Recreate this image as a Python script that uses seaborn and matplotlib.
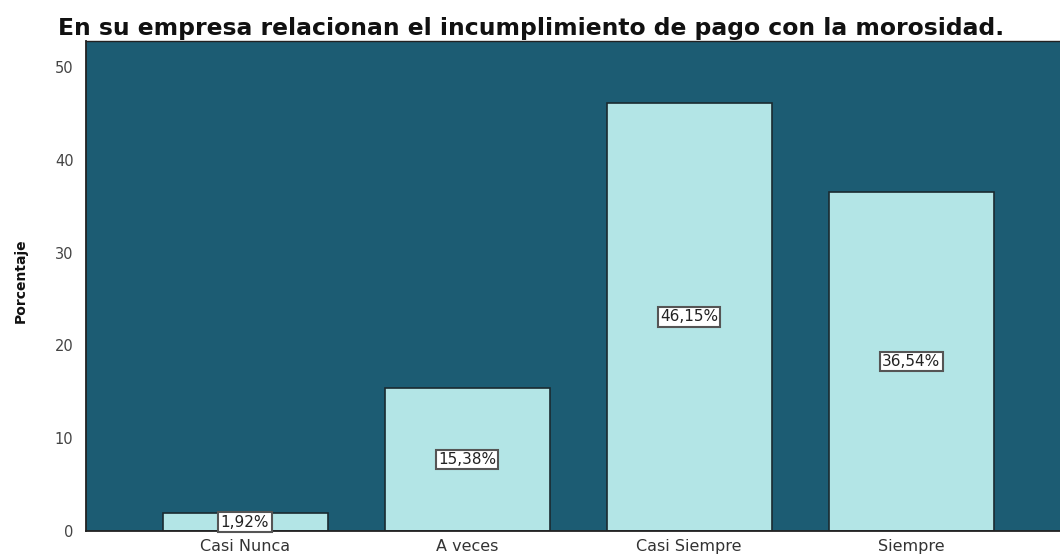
import matplotlib
matplotlib.use('Agg')
import matplotlib.pyplot as plt
import seaborn as sns
import pandas as pd

categorias = ['Casi Nunca', 'A veces', 'Casi Siempre', 'Siempre']
porcentajes = [1.92, 15.38, 46.15, 36.54]
etiquetas = ['1,92%', '15,38%', '46,15%', '36,54%']
yticks = [0, 10, 20, 30, 40, 50]

sns.set_style('white')
plt.rcParams['font.family'] = ['DejaVu Sans']

df = pd.DataFrame({'categoria': categorias, 'porcentaje': porcentajes})

fig = plt.figure(figsize=(10.6, 5.54), dpi=100)
ax = fig.add_axes([86 / 1060, 23 / 554, 1 - 86 / 1060, 490 / 554])
ax.set_facecolor('#1c5c73')

sns.barplot(data=df, x='categoria', y='porcentaje', color='#b3e5e6',
            saturation=1, width=0.743, edgecolor='#1a2a30', linewidth=1.2, ax=ax)

for i, (v, t) in enumerate(zip(porcentajes, etiquetas)):
    ax.text(i, v / 2, t, ha='center', va='center', fontsize=11, color='#222222',
            bbox=dict(boxstyle='square,pad=0.15', facecolor='white', edgecolor='#555555', linewidth=1.5))

ax.set_xlim(-0.716, 3.67)
ax.set_ylim(0, 52.8)
ax.set_yticks(yticks)
ax.set_yticklabels([str(y) for y in yticks], fontsize=10.5, color='#444444')
ax.tick_params(axis='both', direction='out', length=7, width=1.4, color='#333333', pad=2)
ax.tick_params(axis='x', labelsize=11.5, labelcolor='#333333', length=5, pad=1)
ax.set_xlabel('')
ax.set_ylabel('Porcentaje', fontsize=10, fontweight='bold', color='#111111')
ax.yaxis.set_label_coords(-58 / 974, 0.51)
for s in ['left', 'bottom']:
    ax.spines[s].set_color('#222222')
    ax.spines[s].set_linewidth(1.3)
ax.spines['top'].set_color('#222222')
ax.spines['top'].set_linewidth(1.0)
ax.spines['right'].set_visible(False)

fig.text(58 / 1060, 1 - 28 / 554, 'En su empresa relacionan el incumplimiento de pago con la morosidad.',
         fontsize=16.9, fontweight='bold', ha='left', va='center', color='#111111')

fig.savefig('out.png', dpi=100)
